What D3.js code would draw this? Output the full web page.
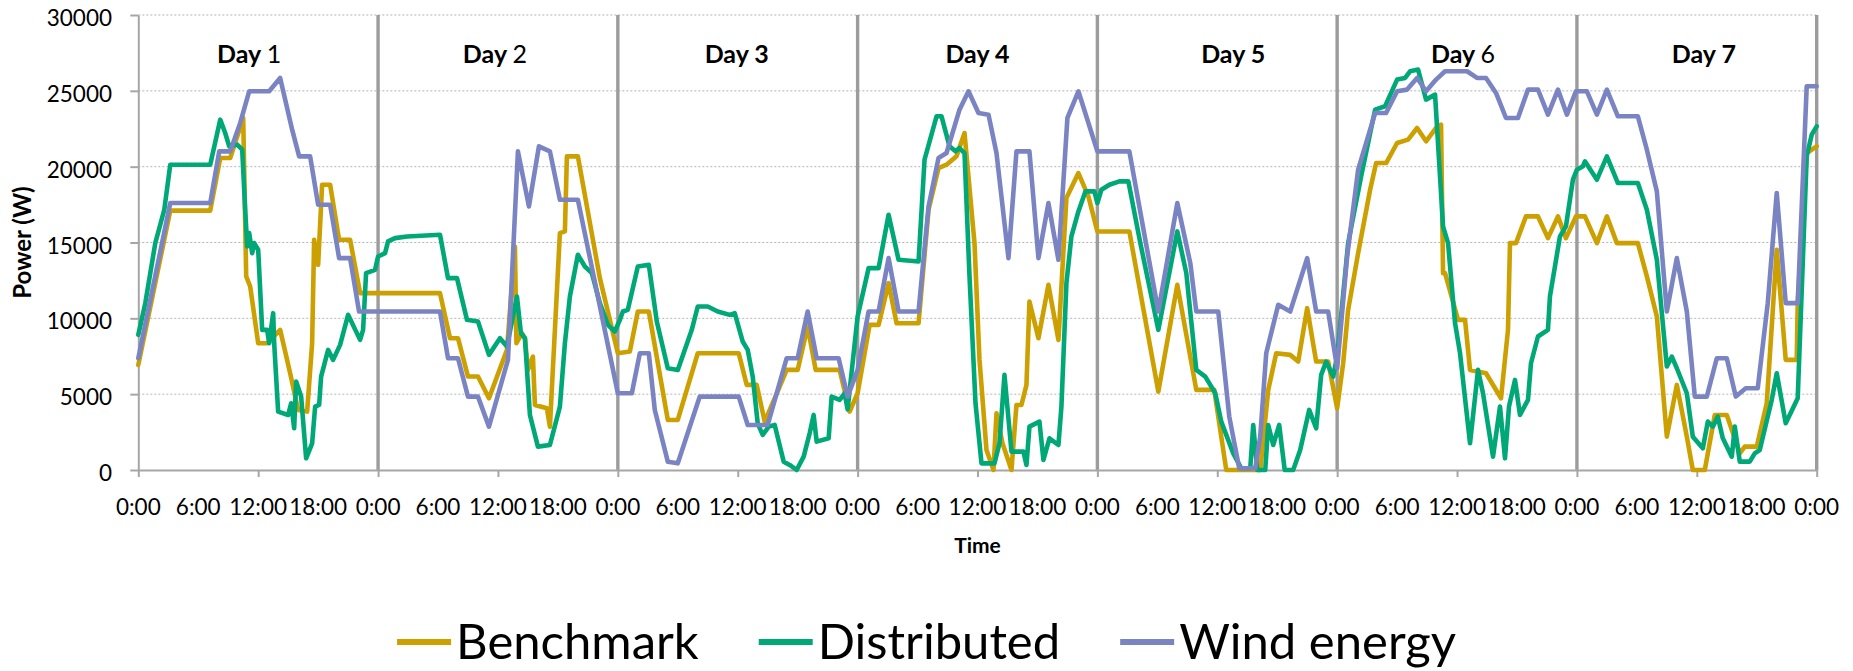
<!DOCTYPE html>
<html>
<head>
<meta charset="utf-8">
<script src="https://cdn.jsdelivr.net/npm/d3@7"></script>
<style>
  body { margin: 0; background: #ffffff; }
  svg { display: block; }
  text { font-family: Lato, "Open Sans", sans-serif; fill: #000; }
</style>
</head>
<body>
<svg id="chart" width="1853" height="671"></svg>
<script>
// ---- data -------------------------------------------------------------
const dayLabels = ["Day 1", "Day 2", "Day 3", "Day 4", "Day 5", "Day 6", "Day 7"];
const hourLabels = ["0:00", "6:00", "12:00", "18:00"];
const yTicks = [0, 5000, 10000, 15000, 20000, 25000, 30000];
const seriesNames = ["Benchmark", "Distributed", "Wind energy"];

// [hour since start of day 1, power in W]
const benchmark = [
  [0,6930],[3.2,17100],[7.2,17100],[8.2,20570],[9.2,20570],[10.5,23210],[10.8,12760],[11.2,12100],
  [12.0,8360],[12.9,8360],[14.2,9240],[15.2,6380],[16.0,3960],[16.9,3850],[17.4,8360],[17.6,15180],
  [18.0,13530],[18.4,18810],[19.2,18810],[20.1,15180],[21.2,15180],[22.2,11660],
  [30.2,11660],[31.2,8690],[32.0,8690],[33.0,6160],[34.0,6160],[35.1,4730],[36.9,7920],[37.7,14740],
  [37.85,8360],[38.4,9020],[38.7,8690],[39.0,6600],[39.5,7480],[39.7,4290],[40.9,4070],[41.2,2860],
  [42.2,15620],[42.7,15730],[42.9,20680],[44.0,20680],[46.2,12650],[48.0,7700],
  [49.2,7810],[50.0,10450],[51.1,10450],[53.0,3300],[54.0,3300],[56.0,7700],[60.1,7700],[60.9,5610],
  [61.9,5610],[62.7,3190],[64.2,5500],[64.9,6600],[66.0,6600],[67.0,9460],[67.8,6600],[70.2,6600],
  [71.2,3850],[72.0,5060],
  [73.2,9570],[74.1,9570],[75.1,12320],[75.9,9680],[78.1,9680],[79.1,17160],[80.1,19910],[80.9,20130],
  [81.9,20680],[82.7,22220],[83.7,14960],[84.2,7260],[84.9,1320],[85.6,0],[85.9,3740],[86.5,1760],
  [87.4,0],[87.9,4290],[88.4,4290],[88.9,5610],[89.2,11110],[90.1,8690],[91.1,12210],[92.1,8580],
  [92.9,17930],[94.1,19580],[95.1,18040],[96.0,15730],
  [99.2,15730],[102.1,5170],[104.0,12210],[105.9,5280],[107.7,5280],[108.9,0],[112.3,0],[113.1,5280],
  [113.9,7700],[115.3,7590],[116.1,7150],[117.0,10670],[117.9,7150],[119.1,7150],[120.0,4070],
  [120.6,7040],[121.1,10560],[122.1,14300],[123.3,18480],[123.9,20240],[124.9,20240],[126.0,21560],
  [127.1,21780],[128.0,22550],[128.9,21670],[129.9,22550],[130.4,22770],[130.6,12980],[130.8,12980],
  [132.1,9900],[132.8,9900],[133.3,6600],[134.9,6380],[136.4,4730],[137.1,9240],[137.3,14960],
  [137.9,14960],[138.9,16720],[140.1,16720],[141.1,15290],[142.1,16720],[142.9,15290],[143.9,16720],
  [144.8,16720],[146.0,14960],[147.0,16720],[148.0,14960],[150.1,14960],[151.0,12760],[152.0,10120],
  [153.0,2200],[154.0,5610],[155.0,2200],[155.6,0],[156.8,0],[157.8,3630],[159.0,3630],[160.3,1100],
  [160.8,1540],[162.0,1540],[163.0,4400],[164.0,14520],[164.9,7260],[166.0,7260],[166.1,11000],
  [167.0,20900],[168.0,21340]
];

const distributed = [
  [0,8910],[0.7,11000],[1.7,14960],[2.6,17160],[3.2,20130],[7.2,20130],[8.2,23100],[8.7,22220],
  [9.1,21340],[9.9,21450],[10.4,21120],[10.7,17160],[10.9,14740],[11.1,15620],[11.4,14300],[11.6,14960],
  [12.0,14520],[12.4,9240],[12.9,9240],[13.1,8360],[13.5,10340],[13.6,8360],[14.0,3850],[15.0,3630],
  [15.3,4400],[15.6,2750],[15.8,5830],[16.3,4840],[16.8,770],[17.4,1760],[17.7,4180],[18.1,4290],
  [18.3,6160],[19.0,7920],[19.5,7260],[20.2,8250],[21.0,10230],[22.2,8580],[22.5,9240],[22.8,12980],
  [23.7,13200],
  [24.0,14080],[24.7,14300],[25.0,15070],[25.7,15290],[26.9,15400],[30.2,15510],[31.0,12650],[31.9,12650],
  [32.9,9900],[34.0,9790],[35.1,7590],[36.2,8690],[36.9,8140],[37.9,11440],[38.3,9020],[38.7,8690],
  [39.2,3630],[40.0,1540],[41.2,1650],[42.2,4180],[42.7,8360],[43.2,11440],[44.0,14190],[44.7,13420],
  [45.4,12980],[46.2,11000],[47.0,9570],[47.7,9130],
  [48.2,9900],[48.5,10450],[49.0,10560],[50.0,13420],[51.1,13530],[51.9,9790],[53.0,6710],[54.0,6600],
  [55.4,9240],[56.0,10780],[57.0,10780],[58.0,10450],[59.2,10230],[59.7,10340],[60.5,8470],[61.0,7920],
  [61.5,6160],[62.0,3080],[62.5,2310],[63.1,2860],[63.7,2970],[64.6,550],[65.2,330],[65.9,0],[66.6,880],
  [67.2,2420],[67.6,3630],[67.9,1870],[69.1,2090],[69.4,4840],[70.2,4620],[70.7,5060],[71.0,4000],
  [72.0,10120],
  [73.1,13310],[74.1,13310],[75.1,16830],[76.1,13860],[78.1,13750],[78.7,20460],[79.9,23320],[80.4,23320],
  [81.2,21340],[81.8,21010],[82.2,21230],[82.7,20900],[83.2,12760],[83.8,4400],[84.4,440],[85.7,440],
  [86.2,1760],[86.7,6270],[87.4,1210],[88.6,1210],[88.9,330],[89.2,2860],[90.2,3190],[90.6,660],
  [91.2,2090],[92.1,1650],[92.4,4180],[92.9,12320],[93.4,15400],[94.1,17050],[94.8,18370],[95.7,18370],
  [96.0,17600],
  [96.4,18480],[97.2,18810],[98.2,19030],[99.1,19030],[100.3,14960],[102.1,9240],[104.0,15730],
  [104.9,12980],[105.9,6600],[106.8,6160],[107.8,5060],[108.4,3190],[109.6,1100],[110.4,110],[111.3,110],
  [111.6,2970],[112.0,0],[112.8,0],[113.1,2970],[113.6,1650],[114.2,2970],[114.75,0],[115.6,0],
  [116.3,1320],[117.2,3960],[117.9,2750],[118.4,6270],[118.9,7150],[119.6,6160],[120.0,7480],
  [121.1,14960],[122.4,19360],[123.8,23760],[124.8,23980],[126.0,25740],[126.8,25850],[127.3,26290],
  [128.1,26400],[128.9,24420],[129.8,24750],[130.6,16060],[131.1,14960],[131.8,9680],[132.3,7700],
  [133.3,1760],[134.1,6600],[134.6,5060],[135.6,880],[136.3,4180],[136.8,770],[137.2,4180],[137.8,5940],
  [138.3,3630],[139.1,4620],[139.4,7040],[140.1,8800],[141.1,9240],[141.3,11440],[142.3,15400],
  [142.9,16060],[143.6,19140],[144.0,19800],
  [144.6,20020],[144.8,20350],[146.0,19140],[147.0,20680],[148.1,18920],[150.1,18920],[151.0,17160],
  [152.0,13860],[153.0,6820],[153.5,7480],[154.0,6710],[155.0,5060],[155.6,2200],[156.6,1430],
  [157.1,3190],[157.6,2860],[158.1,3520],[158.6,2090],[159.5,880],[159.8,2860],[160.3,550],[161.3,550],
  [161.8,1100],[162.3,1320],[163.5,4620],[164.0,6380],[164.9,3080],[166.1,4730],[167.0,20680],
  [167.5,22110],[168.0,22660]
];

const windEnergy = [
  [0,7370],[3.2,17600],[7.2,17600],[8.1,21010],[9.2,21010],[10.2,22880],[11.1,24970],[13.1,24970],
  [14.2,25850],[15.4,22440],[16.1,20680],[17.2,20680],[18.0,17490],[19.2,17490],[20.1,13970],
  [21.2,13970],[22.1,10450],
  [30.2,10450],[31.0,7370],[32.0,7370],[33.0,4840],[34.0,4840],[35.1,2860],[37.0,7260],[38.0,21010],
  [39.1,17380],[40.1,21340],[41.2,21010],[42.2,17820],[44.0,17820],[48.0,5060],
  [49.4,5060],[50.2,7700],[51.1,7700],[51.7,3960],[53.0,550],[54.0,440],[56.2,4840],[60.1,4840],
  [61.0,2970],[63.0,2970],[64.9,7370],[66.0,7370],[67.0,10450],[67.9,7370],[70.1,7370],[71.0,4840],
  [72.0,6600],
  [73.1,10450],[74.1,10450],[75.1,13970],[76.1,10450],[78.1,10450],[79.1,17380],[80.1,20570],
  [80.9,20900],[82.2,23760],[83.1,24970],[84.1,23540],[85.1,23430],[85.9,20900],[87.1,13970],
  [87.9,21010],[89.2,21010],[90.1,13970],[91.1,17600],[92.1,13860],[93.0,23210],[94.1,24970],
  [96.0,21010],
  [99.2,21010],[102.1,10450],[104.0,17600],[105.3,13640],[105.9,10450],[108.1,10450],[109.2,3520],
  [110.2,110],[111.8,110],[112.3,2200],[112.9,7700],[114.1,10890],[115.3,10450],[117.0,13970],
  [117.9,10450],[119.1,10450],[120.0,6710],
  [121.0,14080],[122.1,19800],[123.8,23540],[124.9,23540],[126.0,24970],[127.0,25080],[128.0,25850],
  [128.9,24970],[129.9,25740],[130.8,26290],[133.0,26290],[134.0,25850],[134.9,25850],[135.9,24860],
  [136.9,23210],[138.1,23210],[139.1,25080],[140.1,25080],[141.1,23430],[142.1,25080],[143.0,23430],
  [143.9,24970],
  [145.0,24970],[146.0,23430],[147.0,25080],[148.1,23320],[150.1,23320],[151.0,21120],[152.0,18370],
  [153.0,10450],[154.0,13970],[155.0,10450],[155.8,4840],[157.0,4840],[158.0,7370],[159.0,7370],
  [159.9,4840],[160.9,5390],[162.1,5390],[163.1,11000],[164.0,18260],[164.9,11000],[166.1,11000],
  [167.0,25300],[168.0,25300]
];

// ---- layout & style ---------------------------------------------------
const W = 1853, H = 671;
const plot = { left: 138.3, right: 1816.7, top: 15, bottom: 470 };
const colors = ["#CCA000", "#00A878", "#7B84C2"];
const axisGrey = "#a6a6a6";
const dayNumberBold = [false, false, true, true, true, false, true];
const dayLabelNudge = [-9, -3, -1, 0, 16, 6, 7];
const hoursPerDay = 24;
const totalHours = hoursPerDay * dayLabels.length;

const svg = d3.select("#chart");

const x = d3.scaleLinear().domain([0, totalHours]).range([plot.left, plot.right]);
const y = d3.scaleLinear().domain([0, 30000]).range([plot.bottom, plot.top]);

// horizontal dotted gridlines
svg.append("g")
  .selectAll("line")
  .data(yTicks.filter(v => v > 0))
  .join("line")
  .attr("x1", plot.left).attr("x2", plot.right)
  .attr("y1", d => y(d)).attr("y2", d => y(d))
  .attr("stroke", "#b3b3b3")
  .attr("stroke-width", 1)
  .attr("stroke-dasharray", "2,2");

// day separators
svg.append("g")
  .selectAll("line")
  .data(d3.range(1, dayLabels.length + 1))
  .join("line")
  .attr("x1", d => x(d * hoursPerDay)).attr("x2", d => x(d * hoursPerDay))
  .attr("y1", plot.top).attr("y2", plot.bottom)
  .attr("stroke", "#9c9c9c")
  .attr("stroke-width", 3.4);

// y axis
const yAxis = svg.append("g")
  .attr("transform", `translate(${plot.left},0)`)
  .call(d3.axisLeft(y).tickValues(yTicks).tickSize(8).tickSizeOuter(0).tickFormat(""));
yAxis.select(".domain").attr("stroke", axisGrey).attr("stroke-width", 2);
yAxis.selectAll(".tick line").attr("stroke", axisGrey).attr("stroke-width", 2);

svg.append("g")
  .selectAll("text")
  .data(yTicks)
  .join("text")
  .attr("x", 112)
  .attr("y", d => y(d) + 11)
  .attr("text-anchor", "end")
  .attr("font-size", 22.5)
  .text(d => d);

// x axis: tick marks every 12 hours, labels every 6 hours
const xAxis = svg.append("g")
  .attr("transform", `translate(0,${plot.bottom})`)
  .call(d3.axisBottom(x).tickValues(d3.range(0, totalHours + 1, 12)).tickSize(7).tickSizeOuter(0).tickFormat(""));
xAxis.select(".domain").attr("stroke", axisGrey).attr("stroke-width", 2);
xAxis.selectAll(".tick line").attr("stroke", axisGrey).attr("stroke-width", 2);

svg.append("g")
  .selectAll("text")
  .data(d3.range(0, totalHours + 1, 6))
  .join("text")
  .attr("x", d => x(d))
  .attr("y", plot.bottom + 45)
  .attr("text-anchor", "middle")
  .attr("font-size", 22.5)
  .text(d => hourLabels[(d % hoursPerDay) / 6]);

// axis titles
svg.append("text")
  .attr("x", (plot.left + plot.right) / 2)
  .attr("y", 553)
  .attr("text-anchor", "middle")
  .attr("font-size", 21)
  .attr("font-weight", "bold")
  .text("Time");

svg.append("text")
  .attr("transform", `translate(31,${(plot.top + plot.bottom) / 2}) rotate(-90)`)
  .attr("text-anchor", "middle")
  .attr("font-size", 24)
  .attr("font-weight", "bold")
  .text("Power (W)");

// day headings
dayLabels.forEach((label, i) => {
  const [word, num] = label.split(" ");
  const t = svg.append("text")
    .attr("x", x((i + 0.5) * hoursPerDay) + dayLabelNudge[i])
    .attr("y", 63)
    .attr("text-anchor", "middle")
    .attr("font-size", 25)
    .attr("font-weight", "bold");
  t.append("tspan").text(word + " ");
  t.append("tspan").attr("font-weight", dayNumberBold[i] ? "bold" : "normal").text(num);
});

// series lines
const line = d3.line().x(d => x(d[0])).y(d => y(d[1]));
[benchmark, distributed, windEnergy].forEach((series, i) => {
  svg.append("path")
    .datum(series)
    .attr("d", line)
    .attr("fill", "none")
    .attr("stroke", colors[i])
    .attr("stroke-width", 4.6)
    .attr("stroke-linejoin", "round")
    .attr("stroke-linecap", "round");
});

// legend, centred on the figure
const legend = svg.append("g");
const swatch = 54, swatchGap = 5, itemGap = 60, legendY = 642;
let cursor = 0;
seriesNames.forEach((name, i) => {
  const g = legend.append("g");
  g.append("line")
    .attr("x1", 0).attr("x2", swatch)
    .attr("y1", 0).attr("y2", 0)
    .attr("stroke", colors[i]).attr("stroke-width", 6);
  const t = g.append("text")
    .attr("x", swatch + swatchGap)
    .attr("y", 17)
    .attr("font-size", 49)
    .text(name);
  const w = swatch + swatchGap + t.node().getComputedTextLength();
  g.attr("transform", `translate(${cursor},${legendY})`);
  cursor += w + itemGap;
});
const legendWidth = cursor - itemGap;
legend.attr("transform", `translate(${(W - legendWidth) / 2},0)`);
</script>
</body>
</html>
